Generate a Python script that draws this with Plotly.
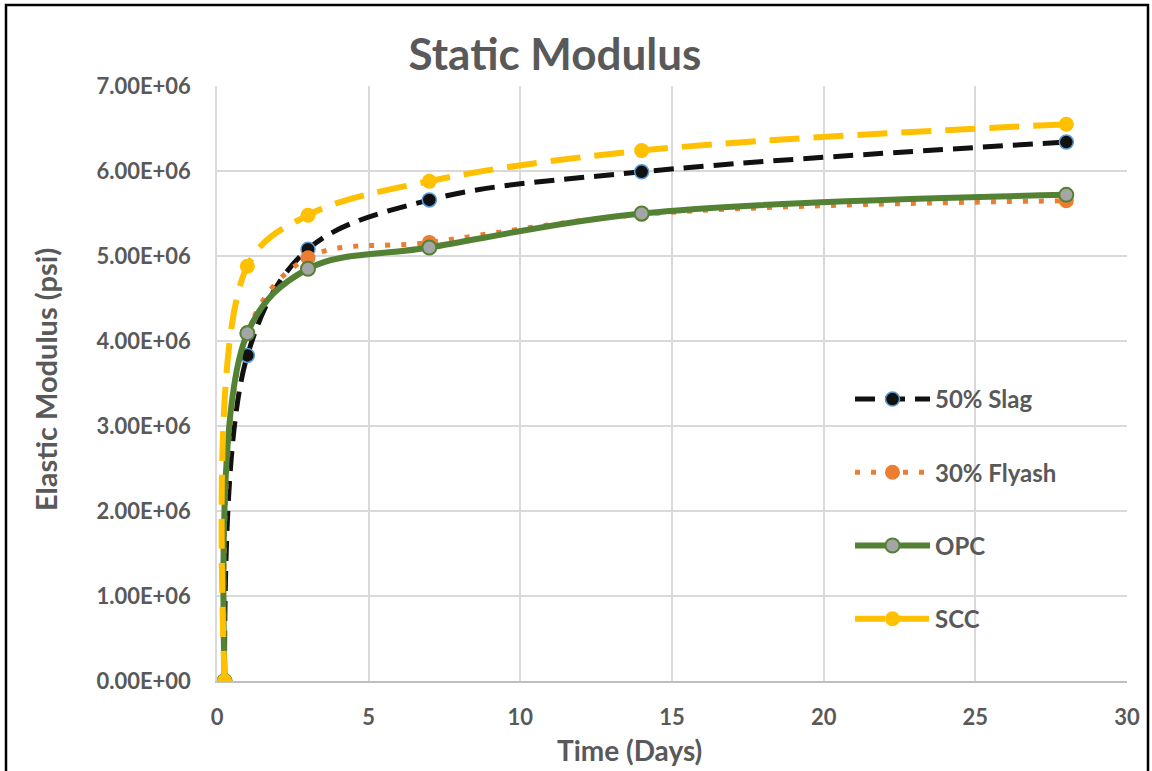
import plotly.graph_objects as go

days = [0.25, 1, 3, 7, 14, 28]
slag = [0, 3.83e6, 5.08e6, 5.66e6, 5.99e6, 6.34e6]
flyash = [0, 4.10e6, 4.98e6, 5.16e6, 5.49e6, 5.65e6]
opc = [0, 4.09e6, 4.85e6, 5.10e6, 5.50e6, 5.72e6]
scc = [0, 4.88e6, 5.48e6, 5.88e6, 6.24e6, 6.55e6]

y_ticks = [0, 1e6, 2e6, 3e6, 4e6, 5e6, 6e6, 7e6]
y_tick_text = ["0.00E+00", "1.00E+06", "2.00E+06", "3.00E+06",
               "4.00E+06", "5.00E+06", "6.00E+06", "7.00E+06"]
x_ticks = [0, 5, 10, 15, 20, 25, 30]

FONT = "Lato"
GREY = "#595959"

W, H = 1152, 771
L, R, T, B = 217, 1152 - 1127, 86, 771 - 681
pw, ph = W - L - R, H - T - B


def px_x(p):
    return (p - L) / pw


def px_y(p):
    return (H - B - p) / ph


fig = go.Figure()
fig.add_trace(go.Scatter(
    x=days, y=slag, name="50% Slag", mode="lines+markers", legendgroup="a",
    line=dict(color="#111111", width=5, dash="20px,10px", shape="spline"),
    marker=dict(color="#111111", size=14, line=dict(color="#5B9BD5", width=1.5))))
fig.add_trace(go.Scatter(
    x=days, y=flyash, name="30% Flyash", mode="lines+markers", legendgroup="b",
    line=dict(color="#ED7D31", width=5, dash="5px,11px", shape="spline"),
    marker=dict(color="#ED7D31", size=15)))
fig.add_trace(go.Scatter(
    x=days, y=opc, name="OPC", mode="lines+markers", legendgroup="c",
    line=dict(color="#548235", width=6, shape="spline"),
    marker=dict(color="#A5A5A5", size=14, line=dict(color="#548235", width=2))))
fig.add_trace(go.Scatter(
    x=days, y=scc, name="SCC", mode="lines+markers", legendgroup="d",
    line=dict(color="#FFC000", width=6, dash="30px,14px", shape="spline"),
    marker=dict(color="#FFC000", size=15)))

fig.update_layout(
    width=W, height=H,
    margin=dict(l=L, r=R, t=T, b=B, autoexpand=False),
    paper_bgcolor="white", plot_bgcolor="white",
    font=dict(family=FONT, color=GREY),
    title=dict(text="<b>Static Modulus</b>", x=555 / W, xanchor="center",
               y=1 - 55 / H, yanchor="middle",
               font=dict(family=FONT, size=44, color=GREY)),
    showlegend=True,
    legend=dict(x=px_x(850), y=px_y(377), xanchor="left", yanchor="top",
                bgcolor="rgba(0,0,0,0)", traceorder="grouped", tracegroupgap=39,
                itemwidth=75,
                font=dict(family=FONT, size=24, color=GREY, weight="bold")),
    xaxis=dict(range=[0, 30], tickvals=x_ticks, showgrid=True, gridcolor="#D9D9D9",
               gridwidth=1.5, zeroline=False, showline=True, linecolor="#BFBFBF",
               linewidth=1.5, mirror=False, ticks="", ticklabelstandoff=16,
               tickfont=dict(family=FONT, size=22, color=GREY, weight="bold")),
    yaxis=dict(range=[0, 7e6], tickvals=y_ticks, ticktext=y_tick_text, showgrid=True,
               gridcolor="#D9D9D9", gridwidth=1.5, zeroline=False, showline=True,
               linecolor="#D9D9D9", linewidth=1.5, ticks="", ticklabelstandoff=20,
               tickfont=dict(family=FONT, size=22, color=GREY, weight="bold")),
    annotations=[
        dict(text="<b>Time (Days)</b>", xref="paper", yref="paper",
             x=px_x(629), y=px_y(750), xanchor="center", yanchor="middle",
             showarrow=False, font=dict(family=FONT, size=28, color=GREY)),
        dict(text="<b>Elastic Modulus (psi)</b>", xref="paper", yref="paper",
             x=px_x(45), y=px_y(380), xanchor="center", yanchor="middle",
             textangle=-90, showarrow=False,
             font=dict(family=FONT, size=29, color=GREY)),
    ],
    shapes=[
        dict(type="rect", xref="paper", yref="paper",
             x0=px_x(6), x1=px_x(1148), y0=px_y(5), y1=px_y(800),
             line=dict(color="black", width=2.5), fillcolor="rgba(0,0,0,0)",
             layer="above"),
    ],
)

fig.write_html("out.html")
